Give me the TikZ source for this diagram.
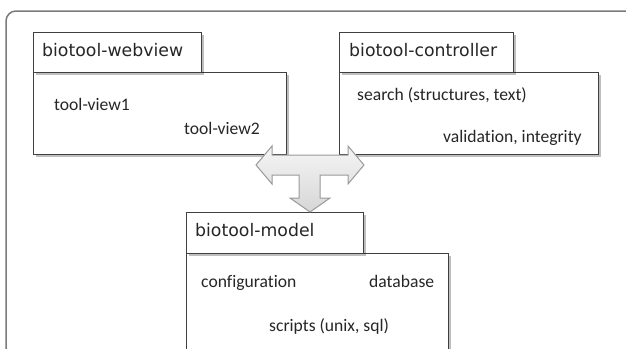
\documentclass[tikz,border=0pt]{standalone}
\usepackage{fontspec}
\setmainfont[Ligatures={NoCommon}]{Carlito}
\newfontfamily\headfont{DejaVu Sans}
\usetikzlibrary{shadows}
\definecolor{boxline}{HTML}{404040}
\definecolor{framec}{HTML}{7A7A7A}
\definecolor{txt}{HTML}{262626}
\definecolor{arrline}{HTML}{9A9A9A}
\tikzset{
  pkgbox/.style={draw=boxline, line width=1.3pt, fill=white, anchor=north west, inner sep=0pt,
    drop shadow={shadow xshift=2pt, shadow yshift=-2pt, opacity=0.25, fill=black}},
  headtxt/.style={anchor=base west, inner sep=0pt, text=txt, font=\headfont\fontsize{17.3}{20}\selectfont},
  bodytxt/.style={anchor=base west, inner sep=0pt, text=txt, font=\fontsize{17.6}{20}\selectfont},
  bigarrow/.style={draw=arrline, line width=1pt, top color=gray!8, bottom color=gray!32, line join=miter}
}
\begin{document}
\begin{tikzpicture}[x=1pt, y=-1pt]
\useasboundingbox (0,0) rectangle (626,348);
\fill[white] (0,0) rectangle (626,348);
% outer frame
\draw[framec, line width=1.5pt, rounded corners=10pt] (627,11) -- (6,11) -- (6,349);

% webview package
\node[pkgbox, minimum width=253pt, minimum height=82pt] (webbody) at (33,72) {};
\node[pkgbox, minimum width=168pt, minimum height=40pt] (webtab) at (33,32) {};
\node[headtxt] (webtitle) at (42,56) {biotool-webview};
\node[bodytxt] (tv1) at (54,110) {tool-view1};
\node[bodytxt] (tv2) at (184,134) {tool-view2};

% controller package
\node[pkgbox, minimum width=259pt, minimum height=82pt] (ctrlbody) at (339,72) {};
\node[pkgbox, minimum width=174pt, minimum height=40pt] (ctrltab) at (339,32) {};
\node[headtxt] (ctrltitle) at (349,56) {biotool-controller};
\node[bodytxt] (search) at (357,100) {search (structures, text)};
\node[bodytxt] (valid) at (443,142) {validation, integrity};

% model package
\node[pkgbox, minimum width=262pt, minimum height=110pt] (modbody) at (186,253) {};
\node[pkgbox, minimum width=177pt, minimum height=41pt] (modtab) at (186,212) {};
\node[headtxt] (modtitle) at (195,236.5) {biotool-model};
\node[bodytxt] (config) at (201,287) {configuration};
\node[bodytxt] (db) at (369,287) {database};
\node[bodytxt] (scripts) at (269,331) {scripts (unix, sql)};

% T-shaped block arrow
\draw[bigarrow]
  (256,165) -- (272,146) -- (272,155) -- (348,155) -- (348,146) -- (364,165)
  -- (348,184) -- (348,175) -- (320,175) -- (320,198) -- (330,198) -- (310,212)
  -- (290,198) -- (299,198) -- (299,175) -- (272,175) -- (272,184) -- cycle;
\end{tikzpicture}
\end{document}
